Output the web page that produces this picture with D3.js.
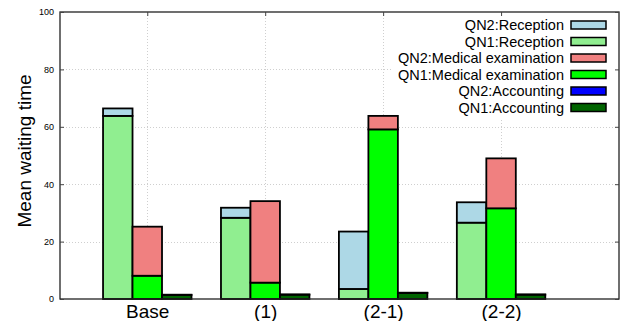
<!DOCTYPE html>
<html><head><meta charset="utf-8">
<script src="https://cdn.jsdelivr.net/npm/d3@7"></script>
<style>body{margin:0;background:#fff}svg{display:block}text{font-family:"Liberation Sans",Arial,sans-serif}</style>
</head><body><svg id="c" width="622" height="321"></svg>
<script>
const categories = ["Base", "(1)", "(2-1)", "(2-2)"];
const qn1Reception = [63.8, 28.3, 3.5, 26.6];
const qn2Reception = [2.6, 3.5, 20.0, 7.1];
const qn1Medical = [8.1, 5.7, 59.1, 31.6];
const qn2Medical = [17.1, 28.4, 4.7, 17.4];
const qn1Accounting = [1.4, 1.5, 2.1, 1.5];
const qn2Accounting = [0.1, 0.1, 0.1, 0.1];
const yTicks = [0, 20, 40, 60, 80, 100];
const legendLabels = ["QN2:Reception", "QN1:Reception", "QN2:Medical examination", "QN1:Medical examination", "QN2:Accounting", "QN1:Accounting"];
const legendColors = ["#add8e6", "#90ee90", "#f08080", "#00ff00", "#0000ff", "#006400"];

const svg = d3.select("#c");
const L = 60, R = 619, T = 12, B = 299;
const x = d3.scaleLinear().domain([-0.74, 4]).range([L, R]);
const y = d3.scaleLinear().domain([0, 100]).range([B, T]);
const barW = x(0.25) - x(0);

// grid
const grid = svg.append("g").attr("stroke", "#cfcfcf").attr("stroke-width", 1).attr("stroke-dasharray", "1,2");
yTicks.filter(t => t > 0 && t < 100).forEach(t => {
  grid.append("line").attr("x1", L).attr("x2", R).attr("y1", Math.round(y(t)) + 0.5).attr("y2", Math.round(y(t)) + 0.5);
});
categories.forEach((c, i) => {
  grid.append("line").attr("x1", Math.round(x(i)) + 0.5).attr("x2", Math.round(x(i)) + 0.5).attr("y1", T).attr("y2", B);
});

// legend background
const lg = svg.append("g");
lg.append("rect").attr("x", 391).attr("y", 14).attr("width", 226).attr("height", 104).attr("fill", "#fff");

// bars
const groups = [
  {off: -1, parts: [[qn1Reception, legendColors[1]], [qn2Reception, legendColors[0]]]},
  {off: 0, parts: [[qn1Medical, legendColors[3]], [qn2Medical, legendColors[2]]]},
  {off: 1, parts: [[qn1Accounting, legendColors[5]], [qn2Accounting, legendColors[4]]]}
];
const bars = svg.append("g").attr("stroke", "#000").attr("stroke-width", 1.8);
categories.forEach((c, i) => {
  groups.forEach(g => {
    let base = 0;
    const cx = x(i + g.off * 0.25);
    g.parts.forEach(([arr, col]) => {
      const v = arr[i];
      bars.append("rect")
        .attr("x", cx - barW / 2).attr("width", barW)
        .attr("y", y(base + v)).attr("height", y(base) - y(base + v))
        .attr("fill", col);
      base += v;
    });
  });
});

// frame
svg.append("rect").attr("x", L).attr("y", T).attr("width", R - L).attr("height", B - T)
  .attr("fill", "none").attr("stroke", "#222").attr("stroke-width", 1.3);

// axes
const yAxis = d3.axisLeft(y).tickValues(yTicks).tickSize(-4).tickPadding(6);
const ya = svg.append("g").attr("transform", `translate(${L},0)`).call(yAxis);
ya.select(".domain").remove();
ya.selectAll("text").attr("font-size", 9).attr("font-family", "Liberation Sans, Arial, sans-serif").attr("fill", "#000");
ya.selectAll("line").attr("stroke", "#444");
const yr = svg.append("g").attr("transform", `translate(${R},0)`).call(d3.axisRight(y).tickValues(yTicks).tickSize(-4).tickFormat(""));
yr.select(".domain").remove(); yr.selectAll("line").attr("stroke", "#444");

const xAxis = d3.axisBottom(x).tickValues(categories.map((c, i) => i)).tickFormat(i => categories[i]).tickSize(0).tickPadding(6);
const xa = svg.append("g").attr("transform", `translate(0,${B})`).call(xAxis);
xa.select(".domain").remove();
xa.selectAll("text").attr("font-size", 19).attr("font-family", "Liberation Sans, Arial, sans-serif").attr("fill", "#000");
const xt = svg.append("g").attr("transform", `translate(0,${T})`).call(d3.axisTop(x).tickValues(categories.map((c, i) => i)).tickSize(-4).tickFormat(""));
xt.select(".domain").remove(); xt.selectAll("line").attr("stroke", "#444");

// y label
svg.append("text").attr("transform", `translate(31,151) rotate(-90)`).attr("text-anchor", "middle")
  .attr("font-size", 19).text("Mean waiting time");

// legend
legendLabels.forEach((lab, k) => {
  const cy = 25 + k * 16.5;
  lg.append("text").attr("x", 564).attr("y", cy + 5).attr("text-anchor", "end").attr("font-size", 14.5).attr("fill", "#000").text(lab);
  lg.append("rect").attr("x", 571).attr("y", cy - 4).attr("width", 35).attr("height", 8)
    .attr("fill", legendColors[k]).attr("stroke", "#000").attr("stroke-width", 1.5);
});
</script></body></html>
